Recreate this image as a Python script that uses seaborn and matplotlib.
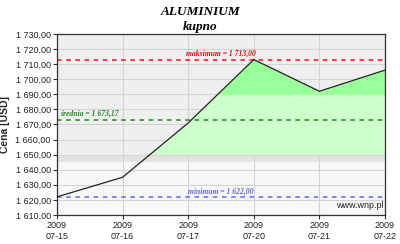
import matplotlib
matplotlib.use("Agg")
import matplotlib.pyplot as plt
import seaborn as sns
import numpy as np
import pandas as pd
from matplotlib.ticker import FuncFormatter

dates = ["07-15", "07-16", "07-17", "07-20", "07-21", "07-22"]
year = "2009"
prices = [1622.0, 1635.0, 1671.0, 1713.0, 1692.0, 1706.0]
max_val = 1713.00
mean_val = 1673.17
min_val = 1622.00
y_ticks = list(range(1610, 1731, 10))
title1 = "ALUMINIUM"
title2 = "kupno"
ylabel = "Cena [USD]"
source = "www.wnp.pl"

sns.set_style("white")
plt.rcParams['font.family'] = ['Liberation Sans', 'DejaVu Sans']

df = pd.DataFrame({"idx": np.arange(len(dates)), "price": prices})

fig = plt.figure(figsize=(4.0, 2.44), dpi=100)
ax = fig.add_axes([0.1425, 0.119, 0.82, 0.742])
ax.set_facecolor("#efefef")

x = df["idx"].to_numpy(dtype=float)
y = df["price"].to_numpy()

# background bands near bottom
ax.axhspan(1645, 1650, color="#e2e2e2", zorder=0, lw=0)
ax.axhspan(1610, 1645, color="#f7f7f7", zorder=0, lw=0)

# green fills
ax.fill_between(x, 1650, y, where=y > 1650, interpolate=True, color="#ccffcc", lw=0, zorder=1)
ax.fill_between(x, 1690, y, where=y > 1690, interpolate=True, color="#99ff99", lw=0, zorder=1)

ax.grid(True, color="#d4d4d4", lw=0.8, zorder=0.5)
ax.set_axisbelow(True)

sns.lineplot(data=df, x="idx", y="price", ax=ax, color="#222222", lw=0.9, zorder=3)

ax.axhline(max_val, color="#ee1111", ls=(0, (3, 3)), lw=1.1, zorder=2)
ax.axhline(mean_val, color="#228822", ls=(0, (3, 3)), lw=1.1, zorder=2)
ax.axhline(min_val, color="#6666ee", ls=(0, (3, 3)), lw=1.1, zorder=2)

def fmt(v):
    return f"{v:,.2f}".replace(",", " ").replace(".", ",")

ax.text(2.5, max_val + 1.2, f"maksimum = {fmt(max_val)}", color="#dd1111",
        fontsize=5.5, family="Liberation Serif", style="italic", fontweight="bold",
        ha="center", va="bottom")
ax.text(0.04, mean_val + 1.2, f"średnia = {fmt(mean_val)}", color="#228822",
        fontsize=5.5, family="Liberation Serif", style="italic", fontweight="bold",
        ha="left", va="bottom")
ax.text(2.5, min_val + 1.2, f"minimum = {fmt(min_val)}", color="#6666dd",
        fontsize=5.5, family="Liberation Serif", style="italic", fontweight="bold",
        ha="center", va="bottom")
ax.text(4.97, 1613.5, source, color="#222222", fontsize=6.5, ha="right", va="bottom")

ax.set_xlim(0, len(dates) - 1)
ax.set_ylim(1610, 1730)
ax.set_yticks(y_ticks)
ax.yaxis.set_major_formatter(FuncFormatter(lambda v, p: fmt(v)))
ax.set_xticks(x)
ax.set_xticklabels([f"{year}\n{d}" for d in dates])
ax.tick_params(axis="both", labelsize=6.5, length=3, width=0.8, color="#333333",
               labelcolor="#222222", direction="out", pad=1.5, bottom=True, left=True)
ax.set_xlabel("")
ax.set_ylabel(ylabel, fontsize=7.5, fontweight="bold", labelpad=4)
for s in ax.spines.values():
    s.set_color("#333333")
    s.set_linewidth(0.9)
    s.set_visible(True)

fig.text(0.5, 0.975, title1, ha="center", va="top", fontsize=9.5, color="black",
         family="Liberation Serif", fontweight="bold", style="italic")
fig.text(0.5, 0.912, title2, ha="center", va="top", fontsize=9.5, color="black",
         family="Liberation Serif", fontweight="bold", style="italic")

fig.savefig("out.png", dpi=100, facecolor="white")
